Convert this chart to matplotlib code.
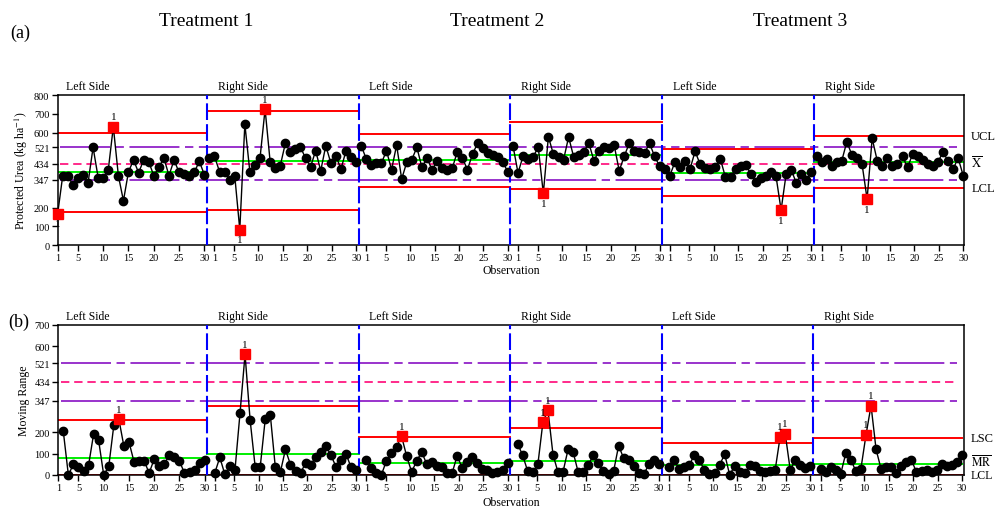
import numpy as np
import matplotlib.pyplot as plt

# Labels
treatments = ["Treatment 1", "Treatment 2", "Treatment 3"]
sides = ["Left Side", "Right Side"] * 3
tick_labels = [1, 5, 10, 15, 20, 25, 30]

# Individual values, protected urea (kg/ha), 30 observations per stage
urea_t1_left = [167, 370, 370, 320, 355, 375, 330, 521, 360, 360, 400, 631, 370, 236, 391,
                453, 386, 453, 444, 370, 414, 464, 370, 453, 388, 379, 366, 388, 446, 375]
urea_t1_right = [464, 473, 391, 388, 348, 370, 82, 645, 388, 427, 464, 725, 444, 409, 423,
                 542, 494, 512, 521, 464, 418, 503, 396, 530, 437, 476, 405, 503, 467, 444]
urea_t2_left = [530, 459, 427, 437, 437, 503, 402, 533, 352, 441, 455, 521, 414, 464, 402,
                446, 409, 402, 409, 498, 464, 402, 485, 542, 516, 491, 480, 468, 444, 388]
urea_t2_right = [530, 384, 475, 458, 472, 521, 275, 578, 483, 471, 455, 576, 470, 482, 498,
                 544, 449, 503, 521, 516, 533, 396, 474, 544, 504, 494, 491, 542, 473, 420]
urea_t3_left = [405, 370, 441, 415, 450, 405, 500, 430, 409, 405, 414, 459, 361, 361, 405,
                420, 427, 379, 338, 356, 370, 388, 366, 187, 379, 402, 331, 379, 348, 391]
urea_t3_right = [473, 444, 459, 423, 444, 450, 551, 480, 462, 432, 245, 569, 450, 423, 462,
                 423, 432, 473, 414, 485, 473, 455, 432, 420, 444, 494, 450, 405, 464, 370]

# Moving ranges, observations 2..30 of each stage
mr_t1_left = [203, 0, 50, 35, 20, 45, 191, 161, 0, 40, 231, 261, 134, 155, 62,
              67, 67, 9, 74, 44, 50, 94, 83, 65, 9, 13, 22, 58, 71]
mr_t1_right = [9, 82, 3, 40, 22, 288, 563, 257, 39, 37, 261, 281, 35, 14, 119,
               48, 18, 9, 57, 46, 85, 107, 134, 93, 39, 71, 98, 36, 23]
mr_t2_left = [71, 32, 10, 0, 66, 101, 131, 181, 89, 14, 66, 107, 50, 62, 44,
              37, 7, 7, 89, 34, 62, 83, 57, 26, 25, 11, 12, 24, 56]
mr_t2_right = [146, 91, 17, 14, 49, 246, 303, 95, 12, 16, 121, 106, 12, 16, 46,
               95, 54, 18, 5, 17, 137, 78, 70, 40, 10, 3, 51, 69, 53]
mr_t3_left = [35, 71, 26, 35, 45, 95, 70, 21, 4, 9, 45, 98, 0, 44, 15,
              7, 48, 41, 18, 14, 18, 22, 179, 192, 23, 71, 48, 31, 43]
mr_t3_right = [29, 15, 36, 21, 6, 101, 71, 18, 30, 187, 324, 119, 27, 39, 39,
               9, 41, 59, 71, 12, 18, 23, 12, 24, 50, 44, 45, 59, 94]

# Control limits per stage
x_ucl = [600, 715, 594, 658, 510, 583]
x_cl = [388, 450, 451, 479, 385, 442]
x_lcl = [176, 185, 308, 300, 262, 302]
mr_ucl = [255, 322, 175, 218, 150, 171]
mr_cl = [81, 99, 55, 66, 47, 50]
mr_lcl = [0, 0, 0, 0, 0, 0]

# Reference lines
ref_outer = [347, 521]
ref_mid = 434

urea = [urea_t1_left, urea_t1_right, urea_t2_left, urea_t2_right, urea_t3_left, urea_t3_right]
mrs = [mr_t1_left, mr_t1_right, mr_t2_left, mr_t2_right, mr_t3_left, mr_t3_right]

plt.rcParams['font.family'] = ['Liberation Serif', 'DejaVu Serif']
plt.rcParams['mathtext.fontset'] = 'stix'
plt.rcParams['lines.scale_dashes'] = False

RED = '#ff0000'
GREEN = '#00ee00'
BLUE = '#0000ff'
PURPLE = '#9933cc'
PINK = '#ff2a8a'

fig = plt.figure(figsize=(9.96, 5.10), dpi=100)
ax1 = fig.add_axes([0.0579, 0.5176, 0.9102, 0.2941])
ax2 = fig.add_axes([0.0585, 0.0667, 0.9093, 0.2941])


def draw_panel(ax, series, ucl, cl, lcl, first, xmax, two_sided):
    n = len(series)
    for k in range(n):
        start = 1 if k == 0 else k * 30 + 0.5
        end = min(k * 30 + 30.5, 180)
        ax.plot([start, end], [ucl[k], ucl[k]], color=RED, lw=1.4, zorder=2)
        ax.plot([start, end], [lcl[k], lcl[k]], color=RED, lw=1.4, zorder=2)
        ax.plot([start, end], [cl[k], cl[k]], color=GREEN, lw=1.4, zorder=2)

        vals = np.array(series[k])
        xs = k * 30 + np.arange(first, 31)
        ax.plot(xs, vals, color='black', lw=1.0, marker='o', ms=6,
                mfc='black', mec='black', zorder=4, clip_on=False)

        hi = vals > ucl[k]
        lo = (vals < lcl[k]) if two_sided else np.zeros_like(hi)
        out = hi | lo
        ax.plot(xs[out], vals[out], ls='none', marker='s', ms=6.5, mfc=RED,
                mec=RED, zorder=5, clip_on=False)
        for xv, yv, up in zip(xs[out], vals[out], hi[out]):
            ax.annotate('1', (xv, yv), xytext=(0, 4 if up else -4),
                        textcoords='offset points', ha='center',
                        va='bottom' if up else 'top', fontsize=8, zorder=6)

        if k < n - 1:
            ax.axvline(k * 30 + 30.5, color=BLUE, lw=1.5, dashes=(12, 3), zorder=3)

        ax.annotate(sides[k], (k * 30 + 2.6, 1), xycoords=('data', 'axes fraction'),
                    xytext=(0, 2.5), textcoords='offset points', ha='left',
                    va='bottom', fontsize=8.5)

    for r in ref_outer:
        ax.axhline(r, xmin=0.003, xmax=0.992, color=PURPLE, lw=1.4,
                   dashes=(36, 4, 6, 4), zorder=1)
    ax.axhline(ref_mid, xmin=0.003, xmax=0.992, color=PINK, lw=1.4,
               dashes=(6, 3.5), zorder=1)

    ticks, labels = [], []
    for k in range(n):
        for t in tick_labels:
            if k == 0:
                ticks.append(t)
            else:
                ticks.append(k * 30 + 2.0 + (t - 1) * 28.0 / 29)
            labels.append(str(t))
    ax.set_xticks(ticks)
    ax.set_xticklabels(labels)
    ax.set_xlim(first - 1 if first == 2 else 1, xmax)

    ax.tick_params(direction='out', length=4, width=1, labelsize=7.5, pad=2)
    for s in ax.spines.values():
        s.set_linewidth(1.1)


draw_panel(ax1, urea, x_ucl, x_cl, x_lcl, 1, 180.2, True)
draw_panel(ax2, mrs, mr_ucl, mr_cl, mr_lcl, 2, 180.4, False)

ax1.set_ylim(0, 800)
ax1.set_yticks([0, 100, 200, 347, 434, 521, 600, 700, 800])
ax1.set_ylabel('Protected Urea (kg ha$^{-1}$)', fontsize=8.5, labelpad=3)
ax1.set_xlabel('Observation', fontsize=8.5, labelpad=1)

ax2.set_ylim(0, 700)
ax2.set_yticks([0, 100, 200, 347, 434, 521, 600, 700])
ax2.set_ylabel('Moving Range', fontsize=8.5, labelpad=3)
ax2.set_xlabel('Observation', fontsize=8.5, labelpad=3)

# Right-hand limit labels
for ax, items in [
    (ax1, [('UCL', x_ucl[-1], 9), (r'$\overline{\mathrm{X}}$', x_cl[-1], 9),
           ('LCL', x_lcl[-1], 9)]),
    (ax2, [('LSC', mr_ucl[-1], 9), (r'$\overline{\mathrm{MR}}$', mr_cl[-1] + 12, 8.5),
           ('LCL', mr_lcl[-1] - 2, 8.5)]),
]:
    for txt, yv, fs in items:
        ax.annotate(txt, (1, yv), xycoords=('axes fraction', 'data'),
                    xytext=(5, 0), textcoords='offset points', ha='left',
                    va='center', fontsize=fs, annotation_clip=False)

# Titles
fig.text(0.010, 0.935, '(a)', fontsize=13, va='center', ha='left')
fig.text(0.008, 0.367, '(b)', fontsize=13, va='center', ha='left')
for name, xp in zip(treatments, [206, 497, 800]):
    fig.text(xp / 996, 0.957, name, fontsize=14, ha='center', va='center')

fig.savefig('out.png', dpi=100)
